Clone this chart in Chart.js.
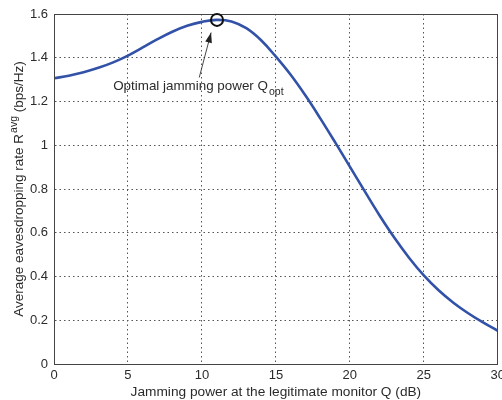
<!DOCTYPE html>
<html><head><meta charset="utf-8">
<script src="https://cdn.jsdelivr.net/npm/chart.js@4/dist/chart.umd.min.js"></script>
<style>
html,body{margin:0;padding:0;overflow:hidden;background:#fff;width:502px;height:400px}
#wrap{width:509px;height:400px;position:relative}
</style>
</head><body><div id="wrap"><canvas id="c" width="509" height="400"></canvas></div>
<script>
// ---- data ----
const jammingPowerDb = [0,1,2,3,4,5,6,7,8,9,10,11,12,13,14,15,16,17,18,19,20,21,22,23,24,25,26,27,28,29,30];
const eavesdroppingRate = [1.306,1.318,1.334,1.354,1.379,1.41,1.447,1.485,1.519,1.546,1.564,1.573,1.566,1.535,1.48,1.405,1.322,1.227,1.123,1.014,0.902,0.79,0.68,0.578,0.486,0.405,0.337,0.28,0.232,0.19,0.152];
const xTickValues = [0,5,10,15,20,25,30];
const yTickValues = [0,0.2,0.4,0.6,0.8,1,1.2,1.4,1.6];
const xTitle = 'Jamming power at the legitimate monitor Q (dB)';
const yTitleParts = ['Average eavesdropping rate R', 'avg', ' (bps/Hz)'];
const annotationText = ['Optimal jamming power Q', 'opt'];
const optimumPoint = [11.02, 1.573];
const arrowTail = [9.82, 1.31];
const arrowHead = [10.62, 1.515];
const annotationAnchor = [4.0, 1.253];

const FONT = '"Liberation Sans", Arial, Helvetica, sans-serif';
const TEXT = '#2b2b2b';

const decor = {
  id: 'decor',
  afterDatasetsDraw(chart) {
    const {ctx, chartArea: a, scales: {x, y}} = chart;
    ctx.save();
    // frame
    ctx.strokeStyle = '#444';
    ctx.lineWidth = 1;
    ctx.setLineDash([]);
    ctx.strokeRect(Math.round(a.left) + 0.5, Math.round(a.top) + 0.5, Math.round(a.right - a.left) - 1, Math.round(a.bottom - a.top));
    // circle at optimum
    const cx = x.getPixelForValue(optimumPoint[0]), cy = y.getPixelForValue(optimumPoint[1]);
    ctx.strokeStyle = '#111';
    ctx.lineWidth = 2;
    ctx.beginPath(); ctx.arc(cx, cy, 6, 0, Math.PI * 2); ctx.stroke();
    // arrow
    const tx = x.getPixelForValue(arrowTail[0]), ty = y.getPixelForValue(arrowTail[1]);
    const hx = x.getPixelForValue(arrowHead[0]), hy = y.getPixelForValue(arrowHead[1]);
    ctx.strokeStyle = '#333'; ctx.fillStyle = '#222';
    ctx.lineWidth = 0.9;
    ctx.beginPath(); ctx.moveTo(tx, ty); ctx.lineTo(hx, hy); ctx.stroke();
    const ang = Math.atan2(hy - ty, hx - tx);
    const L = 10, W = 3.4;
    ctx.beginPath();
    ctx.moveTo(hx, hy);
    ctx.lineTo(hx - L * Math.cos(ang) + W * Math.sin(ang), hy - L * Math.sin(ang) - W * Math.cos(ang));
    ctx.lineTo(hx - L * Math.cos(ang) - W * Math.sin(ang), hy - L * Math.sin(ang) + W * Math.cos(ang));
    ctx.closePath(); ctx.fill();
    // annotation text
    const ax = x.getPixelForValue(annotationAnchor[0]), ay = y.getPixelForValue(annotationAnchor[1]);
    ctx.fillStyle = TEXT;
    ctx.textBaseline = 'alphabetic'; ctx.textAlign = 'left';
    ctx.font = '13.4px ' + FONT;
    ctx.fillText(annotationText[0], ax, ay);
    const w0 = ctx.measureText(annotationText[0]).width;
    ctx.font = '10.5px ' + FONT;
    ctx.fillText(annotationText[1], ax + w0 + 1, ay + 5);
    ctx.restore();
  },
  afterDraw(chart) {
    const {ctx, chartArea: a} = chart;
    ctx.save();
    ctx.fillStyle = TEXT;
    ctx.textBaseline = 'alphabetic';
    // x title
    ctx.font = '13.7px ' + FONT;
    ctx.textAlign = 'center';
    ctx.fillText(xTitle, (a.left + a.right) / 2, 396);
    // y title (rotated, with superscript)
    ctx.translate(23, (a.top + a.bottom) / 2);
    ctx.rotate(-Math.PI / 2);
    ctx.textAlign = 'left';
    ctx.font = '13.5px ' + FONT;
    const w1 = ctx.measureText(yTitleParts[0]).width;
    const w3 = ctx.measureText(yTitleParts[2]).width;
    ctx.font = '10.5px ' + FONT;
    const w2 = ctx.measureText(yTitleParts[1]).width;
    let sx = -(w1 + w2 + w3 + 1) / 2;
    ctx.font = '13.5px ' + FONT;
    ctx.fillText(yTitleParts[0], sx, 0);
    ctx.font = '10.5px ' + FONT;
    ctx.fillText(yTitleParts[1], sx + w1 + 1, -6);
    ctx.font = '13.5px ' + FONT;
    ctx.fillText(yTitleParts[2], sx + w1 + w2 + 1, 0);
    ctx.restore();
  }
};

new Chart(document.getElementById('c'), {
  type: 'line',
  data: {
    datasets: [{
      data: jammingPowerDb.map((q, i) => ({x: q, y: eavesdroppingRate[i]})),
      borderColor: '#3252a8',
      borderWidth: 2.6,
      pointRadius: 0,
      fill: false,
      tension: 0.4
    }]
  },
  options: {
    responsive: false,
    animation: false,
    devicePixelRatio: 1,
    layout: {padding: {top: 14, left: 0, right: 0, bottom: 0}},
    plugins: {legend: {display: false}, tooltip: {enabled: false}},
    scales: {
      x: {
        type: 'linear', min: 0, max: 30,
        afterBuildTicks: s => { s.ticks = xTickValues.map(v => ({value: v})); },
        afterFit: s => { s.height = 36; },
        ticks: {color: TEXT, font: {family: FONT, size: 13}, padding: 4, maxRotation: 0, callback: v => String(v)},
        grid: {color: '#555', lineWidth: 1, drawTicks: false},
        border: {display: true, color: '#444', dash: [1.5, 3]}
      },
      y: {
        type: 'linear', min: 0, max: 1.6,
        afterBuildTicks: s => { s.ticks = yTickValues.map(v => ({value: v})); },
        afterFit: s => { s.width = 54; },
        ticks: {color: TEXT, font: {family: FONT, size: 13}, padding: 6, callback: v => String(v)},
        grid: {color: '#555', lineWidth: 1, drawTicks: false},
        border: {display: true, color: '#444', dash: [1.5, 3]}
      }
    }
  },
  plugins: [decor]
});
</script></body></html>
